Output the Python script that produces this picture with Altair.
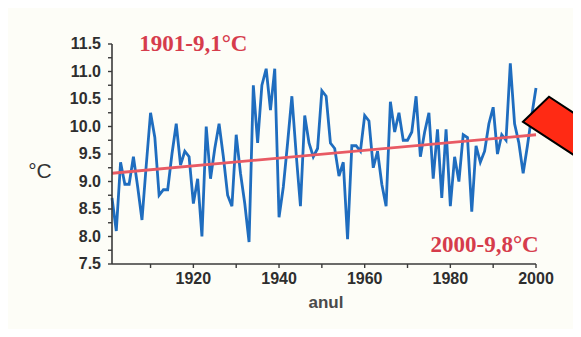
import altair as alt
import pandas as pd

# ---- data ----
years = list(range(1901, 2001))
temps = [
    8.7, 8.1, 9.35, 8.95, 8.95, 9.45, 8.9, 8.3, 9.3, 10.25,      # 1901-1910
    9.8, 8.75, 8.85, 8.85, 9.5, 10.05, 9.3, 9.55, 9.45, 8.6,     # 1911-1920
    9.05, 8.0, 10.0, 9.05, 9.6, 10.05, 9.45, 8.75, 8.55, 9.85,   # 1921-1930
    9.15, 8.6, 7.9, 10.75, 9.7, 10.75, 11.05, 10.3, 11.05, 8.35, # 1931-1940
    8.9, 9.7, 10.55, 9.5, 8.55, 10.2, 9.7, 9.45, 9.6, 10.65,     # 1941-1950
    10.55, 9.7, 9.6, 9.1, 9.35, 7.95, 9.65, 9.65, 9.55, 10.2,    # 1951-1960
    10.1, 9.25, 9.55, 8.95, 8.55, 10.45, 9.9, 10.25, 9.75, 9.75, # 1961-1970
    9.9, 10.55, 9.45, 9.9, 10.25, 9.05, 9.95, 8.7, 9.95, 8.55,   # 1971-1980
    9.45, 9.0, 9.85, 9.8, 8.45, 9.65, 9.35, 9.55, 10.05, 10.35,  # 1981-1990
    9.5, 9.85, 9.75, 11.15, 10.05, 9.7, 9.15, 9.65, 10.2, 10.7,  # 1991-2000
]
trend_years = [1901, 2000]
trend_vals = [9.15, 9.85]
note_texts = ["1901-9,1°C", "2000-9,8°C"]
note_years = [1920, 1988]
note_vals = [11.5, 7.85]
arrow_year = [2005.6]
arrow_val = [9.85]
x_label_values = [1920, 1940, 1960, 1980, 2000]
x_tick_values = [1910, 1920, 1930, 1940, 1950, 1960, 1970, 1980, 1990, 2000]
y_label_values = [7.5, 8.0, 8.5, 9.0, 9.5, 10.0, 10.5, 11.0, 11.5]
y_tick_values = [7.5, 7.75, 8.0, 8.25, 8.5, 8.75, 9.0, 9.25, 9.5, 9.75,
                 10.0, 10.25, 10.5, 10.75, 11.0, 11.25, 11.5]
x_range = [1901, 2000]
y_range = [7.5, 11.5]
x_title = "anul"
y_title = "°C"

series = pd.DataFrame({"year": years, "temp": temps})
trend = pd.DataFrame({"year": trend_years, "temp": trend_vals})
notes = pd.DataFrame({"year": note_years, "temp": note_vals, "text": note_texts})
arrow = pd.DataFrame({"year": arrow_year, "temp": arrow_val})
x_axis_line = pd.DataFrame({"year": x_range, "temp": [y_range[0]] * 2})
y_axis_line = pd.DataFrame({"year": [x_range[0]] * 2, "temp": y_range})
x_ticks = pd.DataFrame({"year": x_tick_values, "temp": [y_range[0]] * len(x_tick_values)})
y_ticks = pd.DataFrame({"year": [x_range[0]] * len(y_tick_values), "temp": y_tick_values})
x_labels = pd.DataFrame({"year": x_label_values,
                         "temp": [y_range[0]] * len(x_label_values),
                         "text": [str(v) for v in x_label_values]})
y_labels = pd.DataFrame({"year": [x_range[0]] * len(y_label_values),
                         "temp": y_label_values,
                         "text": [f"{v:.1f}" for v in y_label_values]})
x_title_df = pd.DataFrame({"year": [(x_range[0] + x_range[1]) / 2], "temp": [y_range[0]], "text": [x_title]})
y_title_df = pd.DataFrame({"year": [x_range[0]], "temp": [9.17], "text": [y_title]})

xscale = alt.Scale(domain=x_range, nice=False, zero=False)
yscale = alt.Scale(domain=y_range, nice=False, zero=False)

AX = "#3a3a3a"
LABEL = "#2e2e2e"


def xy():
    return dict(
        x=alt.X("year:Q", scale=xscale, axis=None),
        y=alt.Y("temp:Q", scale=yscale, axis=None),
    )


line = alt.Chart(series).mark_line(color="#1f6dbf", strokeWidth=2.8).encode(**xy())

trend_line = alt.Chart(trend).mark_line(color="#e85a64", strokeWidth=2.8).encode(**xy())

x_label_marks = alt.Chart(x_labels).mark_text(
    font="Liberation Sans", fontWeight="bold", fontSize=16, color=LABEL,
    align="center", baseline="middle", dy=15,
).encode(text="text:N", **xy())
y_label_marks = alt.Chart(y_labels).mark_text(
    font="Liberation Sans", fontWeight="bold", fontSize=16, color=LABEL,
    align="right", baseline="middle", dx=-11,
).encode(text="text:N", **xy())
x_title_mark = alt.Chart(x_title_df).mark_text(
    font="Liberation Sans", fontWeight="bold", fontSize=17, color="#4a4a4a",
    align="center", baseline="middle", dy=39, dx=2,
).encode(text="text:N", **xy())
y_title_mark = alt.Chart(y_title_df).mark_text(
    font="Liberation Sans", fontWeight="normal", fontSize=21, color="#333333",
    align="center", baseline="middle", dx=-72,
).encode(text="text:N", **xy())

note_marks = alt.Chart(notes).mark_text(
    font="Liberation Serif",
    fontWeight="bold",
    fontSize=23,
    color="#d63c4c",
    align="center",
    baseline="middle",
).encode(text="text:N", **xy())

arrow_mark = alt.Chart(arrow).mark_point(
    shape="M -0.74 -0.26 L -0.22 -0.76 L 1.46 0.34 L 0.94 0.84 Z",
    size=10000,
    filled=True,
    fill="#ff2a14",
    stroke="#000000",
    strokeWidth=2,
    opacity=1,
).encode(**xy())

# axis lines and ticks drawn last, on top of everything
x_domain = alt.Chart(x_axis_line).mark_line(color=AX, strokeWidth=1.6).encode(**xy())
y_domain = alt.Chart(y_axis_line).mark_line(color=AX, strokeWidth=1.6).encode(**xy())

x_tick_marks = alt.Chart(x_ticks).mark_point(
    shape="M 0 0 L 0 1", size=64, filled=False, stroke=AX, strokeWidth=1.4, opacity=1
).encode(**xy())
y_tick_marks = alt.Chart(y_ticks).mark_point(
    shape="M 0 0 L -1 0", size=64, filled=False, stroke=AX, strokeWidth=1.4, opacity=1
).encode(**xy())

chart = (
    alt.layer(line, trend_line, x_label_marks, y_label_marks, x_title_mark, y_title_mark,
              note_marks, arrow_mark, x_domain, y_domain, x_tick_marks, y_tick_marks)
    .properties(
        width=424,
        height=220,
        autosize=alt.AutoSizeParams(type="none"),
        padding={"left": 104, "top": 36, "right": 37, "bottom": 65},
        background="#fdfdf7",
    )
    .configure_view(strokeWidth=0)
)

chart.save("out.html", embed_options={"renderer": "svg", "actions": False})
